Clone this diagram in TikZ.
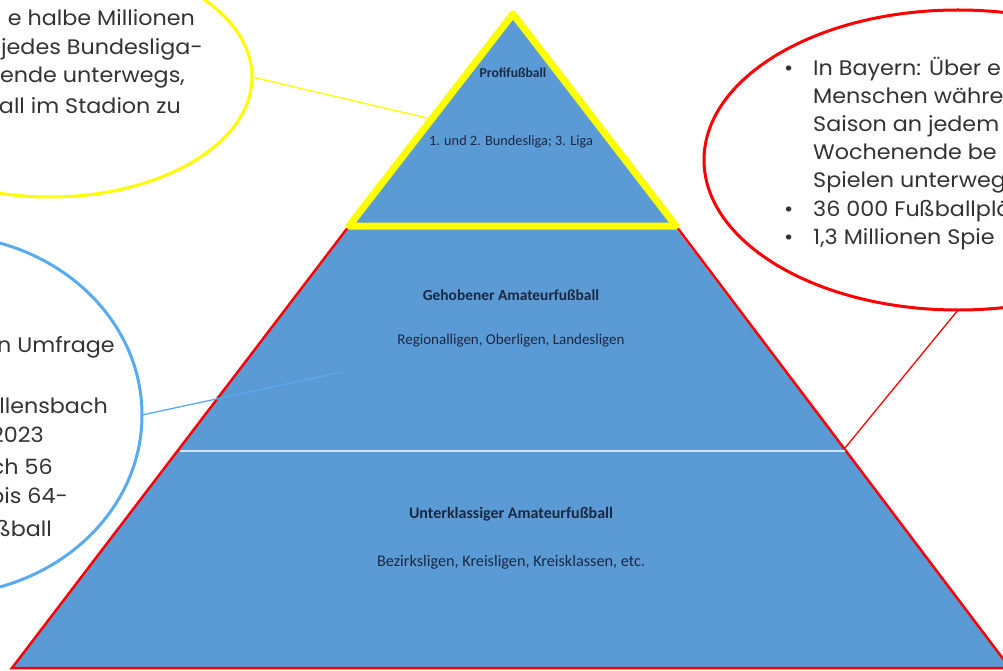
\documentclass[tikz,border=0pt]{standalone}
\usepackage{fontspec}
\setmainfont{Poppins}[FakeStretch=1.06]
\newfontfamily\calib{Carlito}
\usetikzlibrary{shapes.geometric}
\definecolor{pyrfill}{RGB}{91,155,213}
\definecolor{pyrtext}{RGB}{28,40,65}
\definecolor{ellblue}{RGB}{90,170,240}
\definecolor{ellyel}{RGB}{255,255,0}
\definecolor{ellred}{RGB}{255,0,0}
\definecolor{divline}{RGB}{205,228,245}
\begin{document}
\begin{tikzpicture}[x=1pt,y=-1pt,
  bubble/.style={ellipse, draw, line width=3pt, fill=white, inner sep=0pt, outer sep=0pt},
  bodyE/.style={font=\fontsize{21}{25}\selectfont, text=black!80, inner sep=0pt, anchor=base east},
  bodyW/.style={font=\fontsize{21}{25}\selectfont, text=black!80, inner sep=0pt, anchor=base west},
  pyrlabel/.style={font=\calib, text=pyrtext, inner sep=0pt},
  link/.style={line width=1.3pt}]
\useasboundingbox (0,0) rectangle (1003,671);
\clip (0,0) rectangle (1003,671);
\fill[white] (0,0) rectangle (1003,671);

% pyramid
\coordinate (apex) at (513,14);
\coordinate (bl) at (12,668);
\coordinate (br) at (1010,668);
\coordinate (tl) at (349,226);
\coordinate (tr) at (676,226);
\coordinate (ml) at (180,451);
\coordinate (mr) at (845,451);
\fill[pyrfill] (apex) -- (br) -- (bl) -- cycle;
\draw[ellred, line width=2.5pt] (tl) -- (bl) -- (br) -- (tr);
\draw[divline, line width=1.5pt] (ml) -- (mr);
\draw[ellyel, line width=7pt, line join=round] (apex) -- (tr) -- (tl) -- cycle;

\node[pyrlabel, font=\calib\bfseries\fontsize{13.6}{16}\selectfont] (t1) at (513,73) {Profifußball};
\node[pyrlabel, font=\calib\fontsize{14.3}{16}\selectfont] (s1) at (511,142) {1. und 2. Bundesliga; 3. Liga};
\node[pyrlabel, font=\calib\bfseries\fontsize{15.4}{18}\selectfont] (t2) at (511,295) {Gehobener Amateurfußball};
\node[pyrlabel, font=\calib\fontsize{15}{18}\selectfont] (s2) at (511,341) {Regionalligen, Oberligen, Landesligen};
\node[pyrlabel, font=\calib\bfseries\fontsize{16}{18}\selectfont] (t3) at (511,514) {Unterklassiger Amateurfußball};
\node[pyrlabel, font=\calib\fontsize{16.2}{18}\selectfont] (s3) at (511,562) {Bezirksligen, Kreisligen, Kreisklassen, etc.};

% yellow bubble
\node[bubble, draw=ellyel, minimum width=404pt, minimum height=240pt] (yb) at (50,77) {};
\node[bodyE] (y1) at (195,26) {e halbe Millionen};
\node[bodyE] (y2) at (203,55) {jedes Bundesliga-};
\node[bodyE] (y3) at (185,83) {ende unterwegs,};
\node[bodyE] (y4) at (181,114) {all im Stadion zu};
\coordinate (yend) at (427,118);
\draw[link, ellyel] (yb.east) -- (yend);

% red bubble
\node[bubble, draw=ellred, minimum width=508pt, minimum height=300pt] (rb) at (958,160) {};
\node[bodyW] (r1) at (813,76) {In Bayern: Über e};
\node[bodyW] (r2) at (813,104) {Menschen währe};
\node[bodyW] (r3) at (813,132) {Saison an jedem};
\node[bodyW] (r4) at (813,160) {Wochenende be};
\node[bodyW] (r5) at (813,187) {Spielen unterweg};
\node[bodyW] (r6) at (813,216) {36 000 Fußballplä};
\node[bodyW] (r7) at (813,244) {1,3 Millionen Spie};
\node[bodyW] (b1) at (784,76) {•};
\node[bodyW] (b6) at (784,216) {•};
\node[bodyW] (b7) at (784,244) {•};
\coordinate (rend) at (845,448);
\draw[link, ellred] (rb.south) -- (rend);

% blue bubble
\node[bubble, draw=ellblue, minimum width=404pt, minimum height=360pt] (bb) at (-60,415) {};
\node[bodyE] (l1) at (115,352) {n Umfrage};
\node[bodyE] (l2) at (108,413) {llensbach};
\node[bodyE] (l3) at (44,442) {2023};
\node[bodyE] (l4) at (53,474) {ch 56};
\node[bodyE] (l5) at (68,503) {bis 64-};
\node[bodyE] (l6) at (52,536) {ßball};
\coordinate (bend) at (342,372);
\draw[link, ellblue] (bb.east) -- (bend);
\end{tikzpicture}
\end{document}
